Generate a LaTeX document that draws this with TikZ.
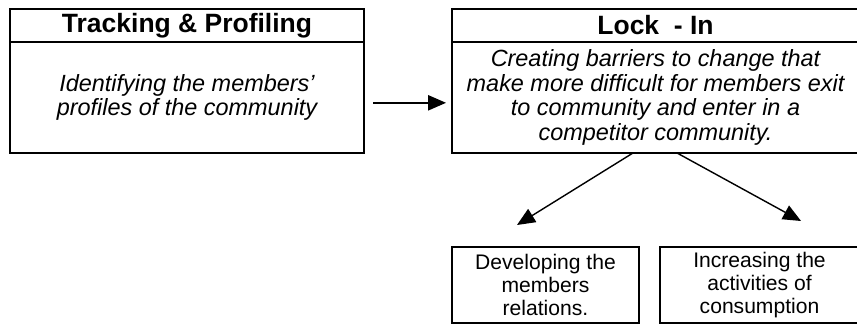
\documentclass[tikz,border=0pt]{standalone}
\usepackage{fontspec}
\setmainfont{Liberation Sans}
\usetikzlibrary{arrows.meta,positioning}
\tikzset{
  titlebox/.style={
    draw,
    line width=0.9pt,
    outer sep=0pt,
    inner sep=1pt,
    align=center,
    minimum height=4.95mm,
    font=\fontsize{11.3}{13}\selectfont\bfseries
  },
  bodybox/.style={
    titlebox,
    minimum height=16.65mm,
    font=\fontsize{10}{10.6}\selectfont\itshape
  },
  smallbox/.style={
    titlebox,
    minimum height=11.4mm,
    font=\fontsize{9}{10}\selectfont
  },
  arrow/.style={-{Triangle[length=2.7mm,width=2.3mm]}, line width=0.6pt},
}

\begin{document}
\begin{tikzpicture}

\useasboundingbox (0,0) rectangle (128.55mm,-48.6mm);

% Tracking block
\node[titlebox, minimum width=53.1mm, anchor=north west] (track) at (1.5mm,-1.35mm) {Tracking \& Profiling};
\node[bodybox, minimum width=53.1mm, below=0pt of track] (profile) {Identifying the members'\\profiles of the community};

% Lock-in block
\node[titlebox, minimum width=61.05mm, right=13.2mm of track] (lock) {Lock \ - In};
\node[bodybox, minimum width=61.05mm, below=0pt of lock] (barrier) {Creating barriers to change that\\make more difficult for members exit\\to community and enter in a\\competitor community.};

\draw[arrow, shorten <=1.35mm, shorten >=0.9mm] ([yshift=-0.8mm]profile.east) -- ([yshift=-0.8mm]barrier.west);

% Sub-goals
\node[smallbox, minimum width=28.05mm, below=14.1mm of barrier.south west, anchor=north west] (relations) {Developing the\\members\\relations.};
\node[smallbox, minimum width=29.85mm, right=3.15mm of relations] (consume) {Increasing the\\activities of\\consumption};

\draw[arrow] ([xshift=-3.38mm]barrier.south) -- ([shift={(-4.28mm,3.3mm)}]relations.north);
\draw[arrow] ([xshift=3.23mm]barrier.south) -- ([shift={(6.23mm,3.9mm)}]consume.north);

\end{tikzpicture}
\end{document}
